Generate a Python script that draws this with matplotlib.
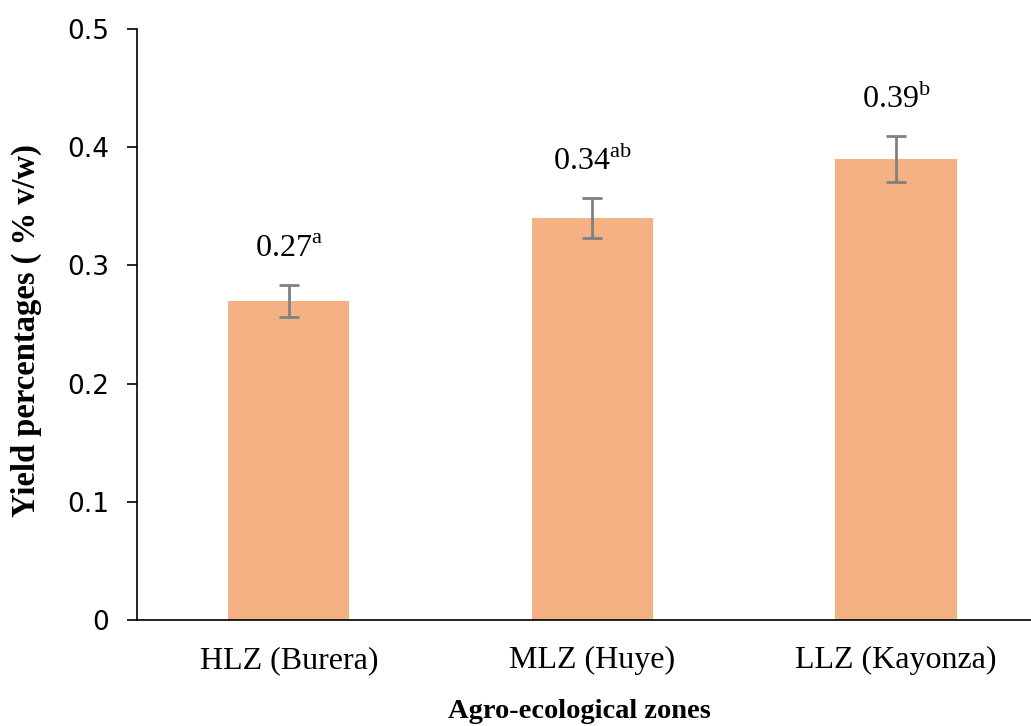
import matplotlib
matplotlib.use("Agg")
import matplotlib.pyplot as plt

categories = ["HLZ (Burera)", "MLZ (Huye)", "LLZ (Kayonza)"]
values = [0.27, 0.34, 0.39]
errors = [0.0135, 0.017, 0.0195]
letters = ["a", "ab", "b"]
yticks = [0, 0.1, 0.2, 0.3, 0.4, 0.5]
ytick_labels = ["0", "0.1", "0.2", "0.3", "0.4", "0.5"]

plt.rcParams["mathtext.fontset"] = "custom"
plt.rcParams["mathtext.rm"] = "Liberation Serif"

fig = plt.figure(figsize=(10.31, 7.26), dpi=100)
ax = fig.add_axes([137/1031, 106/726, 1 - 137/1031, (620-29)/726])

x = list(range(len(categories)))
ax.bar(x, values, width=0.40, color="#F4B183", zorder=2)
ax.errorbar(x, values, yerr=errors, fmt="none", ecolor="#808080",
            elinewidth=2, capsize=7, capthick=2, zorder=3)

for xi, v, e, l in zip(x, values, errors, letters):
    ax.text(xi, v + e + 0.024, f"{v:.2f}" + r"$^{\mathrm{" + l + "}}$",
            ha="center", va="baseline", fontsize=23, family="Liberation Serif")

ax.set_xlim(-0.5, 2.445)
ax.set_ylim(0, 0.5)
ax.set_yticks(yticks)
ax.set_yticklabels(ytick_labels, fontsize=19, family="DejaVu Sans")
ax.set_xticks(x)
ax.set_xticklabels(categories, fontsize=23, family="Liberation Serif")
ax.tick_params(axis="y", length=7, width=1.2, pad=13)
ax.tick_params(axis="x", length=0, pad=19)

for s in ["top", "right"]:
    ax.spines[s].set_visible(False)
ax.spines["left"].set_linewidth(1.2)
ax.spines["bottom"].set_linewidth(1.2)

fig.text(579/1031, (726-718)/726, "Agro-ecological zones", fontsize=20.5,
         fontweight="bold", family="Liberation Serif", ha="center", va="baseline")
ax.set_ylabel("Yield percentages ( % v/w)", fontsize=23.5, fontweight="bold",
              family="Liberation Serif")
ax.yaxis.set_label_coords(-0.106, 0.49)

fig.savefig("out.png", dpi=100)
